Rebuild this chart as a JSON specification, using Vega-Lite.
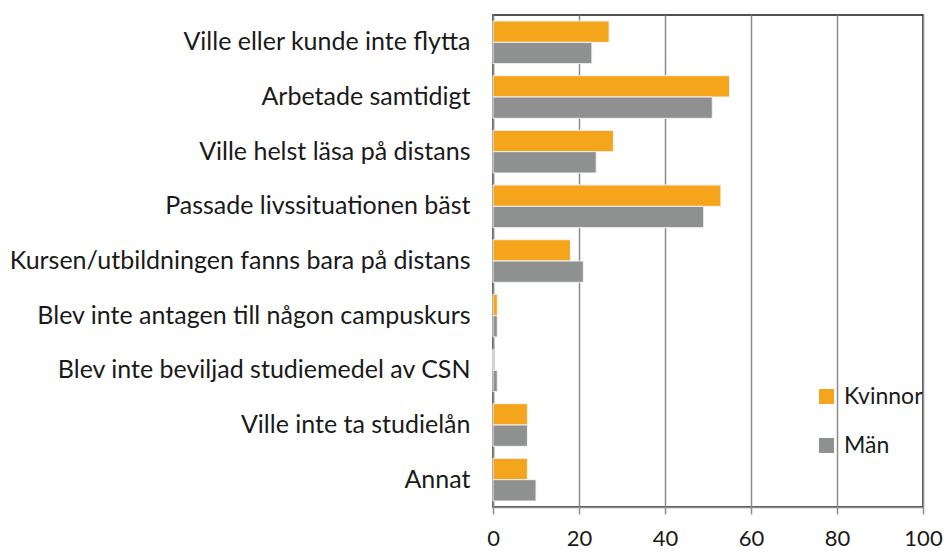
{
  "$schema": "https://vega.github.io/schema/vega-lite/v6.json",
  "width": 430,
  "height": 492,
  "autosize": {"type": "none"},
  "padding": {"left": 493, "top": 15, "right": 21, "bottom": 45},
  "background": "white",
  "config": {
    "font": "Lato",
    "view": {"stroke": "#1a1a1a", "strokeWidth": 1.5}
  },
  "data": {
    "values": [
      {"orsak": "Ville eller kunde inte flytta", "kon": "Kvinnor", "andel": 27},
      {"orsak": "Ville eller kunde inte flytta", "kon": "Män", "andel": 23},
      {"orsak": "Arbetade samtidigt", "kon": "Kvinnor", "andel": 55},
      {"orsak": "Arbetade samtidigt", "kon": "Män", "andel": 51},
      {"orsak": "Ville helst läsa på distans", "kon": "Kvinnor", "andel": 28},
      {"orsak": "Ville helst läsa på distans", "kon": "Män", "andel": 24},
      {"orsak": "Passade livssituationen bäst", "kon": "Kvinnor", "andel": 53},
      {"orsak": "Passade livssituationen bäst", "kon": "Män", "andel": 49},
      {"orsak": "Kursen/utbildningen fanns bara på distans", "kon": "Kvinnor", "andel": 18},
      {"orsak": "Kursen/utbildningen fanns bara på distans", "kon": "Män", "andel": 21},
      {"orsak": "Blev inte antagen till någon campuskurs", "kon": "Kvinnor", "andel": 1},
      {"orsak": "Blev inte antagen till någon campuskurs", "kon": "Män", "andel": 1},
      {"orsak": "Blev inte beviljad studiemedel av CSN", "kon": "Kvinnor", "andel": 0},
      {"orsak": "Blev inte beviljad studiemedel av CSN", "kon": "Män", "andel": 1},
      {"orsak": "Ville inte ta studielån", "kon": "Kvinnor", "andel": 8},
      {"orsak": "Ville inte ta studielån", "kon": "Män", "andel": 8},
      {"orsak": "Annat", "kon": "Kvinnor", "andel": 8},
      {"orsak": "Annat", "kon": "Män", "andel": 10}
    ]
  },
  "mark": {"type": "bar", "stroke": "#f2f2f2", "strokeWidth": 1},
  "encoding": {
    "y": {
      "field": "orsak",
      "type": "nominal",
      "sort": null,
      "scale": {"paddingInner": 0.22, "paddingOuter": 0.11},
      "axis": {
        "title": null,
        "ticks": false,
        "domain": true,
        "domainColor": "#8c8c8c",
        "domainWidth": 1.5,
        "labelFontSize": 25,
        "labelColor": "#1a1a1a",
        "labelPadding": 23,
        "labelLimit": 600
      }
    },
    "yOffset": {"field": "kon", "type": "nominal", "sort": ["Kvinnor", "Män"]},
    "x": {
      "field": "andel",
      "type": "quantitative",
      "scale": {"domain": [0, 100], "nice": false},
      "axis": {
        "title": null,
        "values": [0, 20, 40, 60, 80, 100],
        "grid": true,
        "gridColor": "#8c8c8c",
        "gridWidth": 1.5,
        "domainColor": "#8c8c8c",
        "domainWidth": 1.5,
        "tickColor": "#8c8c8c",
        "tickWidth": 1.5,
        "tickSize": 7,
        "labelFontSize": 22,
        "labelColor": "#1a1a1a",
        "labelPadding": 14,
        "labelFlush": false
      }
    },
    "color": {
      "field": "kon",
      "type": "nominal",
      "scale": {"domain": ["Kvinnor", "Män"], "range": ["#f4a51c", "#8f9090"]},
      "legend": {
        "title": null,
        "orient": "none",
        "legendX": 322,
        "legendY": 370,
        "symbolType": "square",
        "symbolSize": 225,
        "symbolStrokeWidth": 0,
        "labelFontSize": 23,
        "labelColor": "#1a1a1a",
        "labelOffset": 6,
        "rowPadding": 25
      }
    }
  }
}
